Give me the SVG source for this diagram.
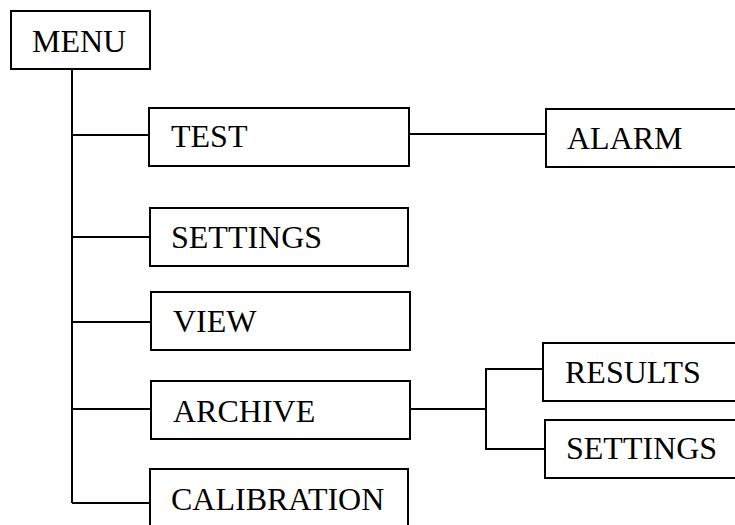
<svg xmlns="http://www.w3.org/2000/svg" width="735" height="525" viewBox="0 0 735 525">
<style>
rect{fill:#fff;stroke:#000;stroke-width:2}
text{font-family:"Liberation Serif","Times New Roman",serif;font-size:32px;fill:#000}
.c{fill:none;stroke:#000;stroke-width:2}
</style>
<rect x="0" y="0" width="735" height="525" style="stroke:none"/>
<g id="connectors">
<path class="c" d="M72 69V503"/>
<path class="c" d="M72 135H149"/>
<path class="c" d="M72 237H150"/>
<path class="c" d="M72 322H151"/>
<path class="c" d="M72 409H151"/>
<path class="c" d="M72 503H150"/>
<path class="c" d="M409 134H546"/>
<path class="c" d="M410 409H486"/>
<path class="c" d="M543 369H486V449H545"/>
</g>
<g id="menu"><rect x="11" y="11" width="139" height="58"/><text x="32" y="52">MENU</text></g>
<g id="test"><rect x="149" y="108" width="260" height="58"/><text x="171" y="147">TEST</text></g>
<g id="alarm"><rect x="546" y="109" width="200" height="58"/><text x="567" y="149">ALARM</text></g>
<g id="settings"><rect x="150" y="208" width="258" height="58"/><text x="171" y="248">SETTINGS</text></g>
<g id="view"><rect x="151" y="292" width="259" height="58"/><text x="173" y="332">VIEW</text></g>
<g id="archive"><rect x="151" y="381" width="259" height="58"/><text x="173" y="422">ARCHIVE</text></g>
<g id="calibration"><rect x="150" y="469" width="258" height="80"/><text x="171" y="510">CALIBRATION</text></g>
<g id="results"><rect x="543" y="343" width="200" height="58"/><text x="565" y="383">RESULTS</text></g>
<g id="settings2"><rect x="545" y="420" width="200" height="58"/><text x="566" y="459">SETTINGS</text></g>
</svg>
